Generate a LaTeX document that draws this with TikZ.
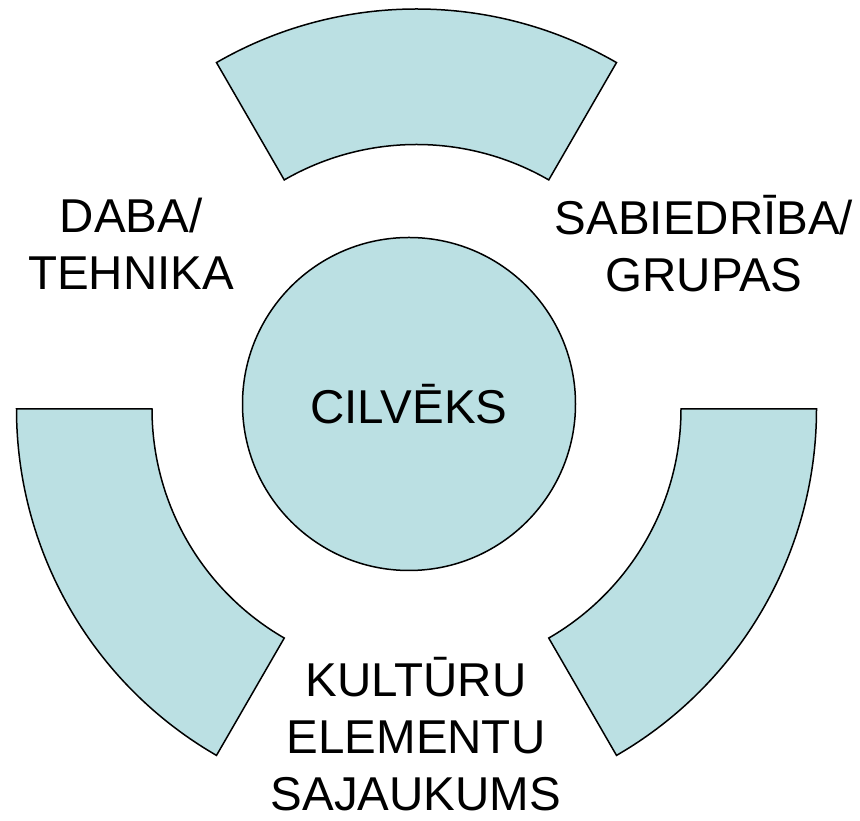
\documentclass[tikz,border=0pt]{standalone}
\usepackage{fontspec}
\setmainfont{Liberation Sans}
\usepackage{xcolor}
\definecolor{segfill}{HTML}{BBE0E3}
\tikzset{
  segment/.style={draw=black,line width=1.5pt,fill=segfill,line join=miter},
  lbl/.style={align=center,inner sep=0pt,anchor=base,font=\fontsize{47.5}{57}\selectfont}
}
\begin{document}
\begin{tikzpicture}[line cap=round,line join=round,x=1pt,y=1pt]
\useasboundingbox (0,0) rectangle (860,821);
% three ring pieces round the middle
\foreach \a in {60,180,300}
  \draw[segment,shift={(416.5,412)}] (\a:400) arc[start angle=\a,end angle=\a+60,radius=400]
    -- ({\a+60}:264.5) arc[start angle=\a+60,end angle=\a,radius=264.5] -- cycle;
\node[circle,draw=black,line width=1.5pt,fill=segfill,minimum size=333,inner sep=0pt,
  font=\fontsize{47.5}{57}\selectfont] (cilveks) at (409,417) {CILVĒKS};
% labels, base = last line
\node[lbl] (daba) at (131,531) {DABA/\\TEHNIKA};
\node[lbl] (sabiedriba) at (704,529) {SABIEDRĪBA/\\GRUPAS};
\node[lbl] (kulturu) at (416,10) {KULTŪRU\\ELEMENTU\\SAJAUKUMS};
\end{tikzpicture}
\end{document}
